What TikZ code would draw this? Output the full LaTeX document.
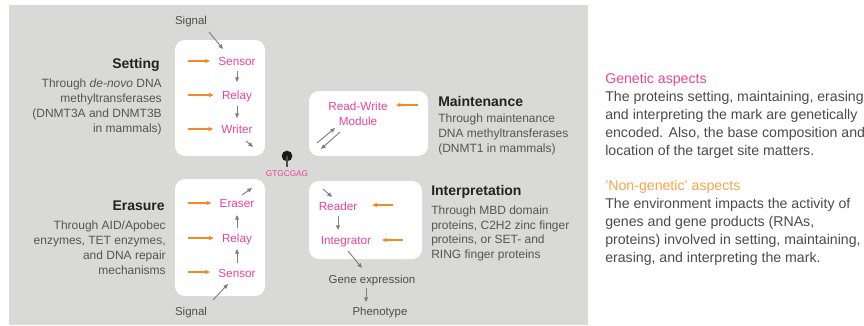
\documentclass[tikz,border=0pt]{standalone}
\usepackage{fontspec}
\setmainfont{Liberation Sans}
\usetikzlibrary{arrows.meta}
\definecolor{bgc}{HTML}{D9D9D8}
\definecolor{pinkc}{HTML}{E8449A}
\definecolor{orangec}{HTML}{F08C28}
\definecolor{lorangec}{HTML}{F5A54A}
\definecolor{arrc}{HTML}{7F7F7F}
\definecolor{headc}{HTML}{222222}
\definecolor{descc}{HTML}{555555}
\definecolor{sigc}{HTML}{4D4D4D}
\definecolor{bodyc}{HTML}{4A4A4A}
\tikzset{
  lbl/.style={text=pinkc, font=\fontsize{8.8}{10}\selectfont, inner xsep=6pt, inner ysep=0pt, text height=6.4pt, text depth=0pt},
  lbltwo/.style={text=pinkc, font=\fontsize{8.8}{11.25}\selectfont, inner xsep=6pt, inner ysep=0pt, align=center},
  hd/.style={font=\fontsize{10.5}{12}\selectfont\bfseries, text=headc, inner sep=0pt, text height=7.5pt, text depth=0pt},
  desc/.style={font=\fontsize{9}{11.25}\selectfont, text=descc, inner sep=0pt},
  sig/.style={font=\fontsize{8.6}{10}\selectfont, text=sigc, inner sep=0pt, text height=6.2pt, text depth=0pt},
  body/.style={font=\fontsize{10.6}{13.5}\selectfont, text=bodyc, inner sep=0pt, align=left, anchor=north west},
  whitebox/.style={fill=white, rounded corners=7.5pt},
  oarr/.style={draw=orangec, line width=0.85pt, -{Triangle[length=3.5pt,width=3pt]}},
  garr/.style={draw=arrc, line width=0.7pt, -{Triangle[length=3.5pt,width=3pt]}}
}
\begin{document}
\begin{tikzpicture}[x=0.75pt,y=-0.75pt]
\useasboundingbox (0,0) rectangle (864,325);
\fill[bgc] (9,5) rectangle (588,325);

% ---------- Setting ----------
\fill[whitebox] (175,40) rectangle (265,156);
\node[sig] (sigtop) at (191,20) {Signal};
\node[lbl] (sensorS) at (237,61) {Sensor};
\node[lbl] (relayS) at (237,95) {Relay};
\node[lbl] (writer) at (237,129) {Writer};
\node[hd, anchor=east] (setting) at (160,63) {Setting};
\node[desc, anchor=north east, align=right] (settingd) at (162,78.5)
  {Through \textit{de-novo} DNA\\methyltransferases\\(DNMT3A and DNMT3B\\in mammals)};
\coordinate (oS1) at (188,61);
\coordinate (oS2) at (188,95);
\coordinate (oS3) at (188,129);
\draw[oarr] (oS1) -- (oS1 -| sensorS.west);
\draw[oarr] (oS2) -- (oS2 -| relayS.west);
\draw[oarr] (oS3) -- (oS3 -| writer.west);
\draw[garr, shorten <=7.5pt, shorten >=9.75pt] (sensorS.center) -- (relayS.center);
\draw[garr, shorten <=8.25pt, shorten >=8.25pt] (relayS.center) -- (writer.center);
\coordinate (sigA) at (209,32);
\coordinate (sigB) at (223,49);
\draw[garr] (sigA) -- (sigB);
\coordinate (wrA) at (246,141);
\coordinate (wrB) at (253,147);
\draw[garr] (wrA) -- (wrB);

% ---------- DNA site ----------
\node[circle, fill=black!90, inner sep=0pt, minimum size=8pt] (dot) at (287,156) {};
\coordinate (stemend) at (287,167);
\draw[draw=black!70, line width=1.1pt] (dot.center) -- (stemend);
\node[font=\fontsize{6.2}{7}\selectfont, text=pinkc, inner sep=0pt] (site) at (287,174) {GTGCGAG};

% ---------- Erasure ----------
\fill[whitebox] (175,179) rectangle (265,296);
\node[lbl] (eraser) at (237,203) {Eraser};
\node[lbl] (relayE) at (237,238) {Relay};
\node[lbl] (sensorE) at (237,273) {Sensor};
\node[sig] (sigbot) at (191,311) {Signal};
\node[hd, anchor=east] (erasure) at (165,205) {Erasure};
\node[desc, anchor=north east, align=right] (erasured) at (166,220.5)
  {Through AID/Apobec\\enzymes, TET enzymes,\\and DNA repair\\mechanisms};
\coordinate (oE1) at (188,203);
\coordinate (oE2) at (188,238);
\coordinate (oE3) at (188,272);
\draw[oarr] (oE1) -- (oE1 -| eraser.west);
\draw[oarr] (oE2) -- (oE2 -| relayE.west);
\draw[oarr] (oE3) -- (oE3 -| sensorE.west);
\draw[garr, shorten <=7.5pt, shorten >=8.25pt] (sensorE.center) -- (relayE.center);
\draw[garr, shorten <=7.5pt, shorten >=9pt] (relayE.center) -- (eraser.center);
\coordinate (erA) at (242,195);
\coordinate (erB) at (252,188);
\draw[garr] (erA) -- (erB);
\coordinate (sbA) at (213,300);
\coordinate (sbB) at (228,284);
\draw[garr] (sbA) -- (sbB);

% ---------- Maintenance ----------
\fill[whitebox] (309,91) rectangle (428,156);
\node[lbltwo, anchor=north] (rw) at (358,102) {Read-Write\\Module};
\node[hd, anchor=west] (maint) at (438,101) {Maintenance};
\node[desc, anchor=north west, align=left] (maintd) at (438,113.5)
  {Through maintenance\\DNA methyltransferases\\(DNMT1 in mammals)};
\coordinate (oM) at (418,105);
\draw[oarr] (oM) -- (oM -| rw.east);
\coordinate (mA) at (317,143);
\coordinate (mB) at (335,128);
\coordinate (mC) at (340,132);
\coordinate (mD) at (321,149);
\draw[garr] (mA) -- (mB);
\draw[garr] (mC) -- (mD);

% ---------- Interpretation ----------
\fill[whitebox] (309,181) rectangle (422,259);
\node[lbl] (reader) at (338,206) {Reader};
\node[lbl] (integrator) at (346,240) {Integrator};
\node[hd, anchor=west] (interp) at (431,190) {Interpretation};
\node[desc, anchor=north west, align=left, font=\fontsize{9}{11}\selectfont] (interpd) at (431,205.5)
  {Through MBD domain\\proteins, C2H2 zinc finger\\proteins, or SET- and\\RING finger proteins};
\coordinate (oR) at (393,205);
\coordinate (oI) at (403,240);
\draw[oarr, shorten >=5pt] (oR) -- (oR -| reader.east);
\draw[oarr, shorten >=2pt] (oI) -- (oI -| integrator.east);
\coordinate (rdA) at (323,189);
\coordinate (rdB) at (332,197);
\draw[garr] (rdA) -- (rdB);
\draw[garr, shorten <=7.5pt, shorten >=7.5pt] (reader.center) -- (reader.center |- integrator.center);
\node[sig] (gene) at (372,279) {Gene expression};
\node[sig] (pheno) at (380,311) {Phenotype};
\coordinate (igA) at (348,251);
\coordinate (igB) at (362,268);
\draw[garr] (igA) -- (igB);
\coordinate (gpA) at (366,288);
\coordinate (gpB) at (366,302);
\draw[garr] (gpA) -- (gpB);

% ---------- Right panel ----------
\node[body] (genetic) at (605,72.6)
  {{\color{pinkc}Genetic aspects}\\The proteins setting, maintaining, erasing\\and interpreting the mark are genetically\\encoded. Also, the base composition and\\location of the target site matters.};
\node[body] (nongenetic) at (605,179.6)
  {{\color{lorangec}'Non-genetic' aspects}\\The environment impacts the activity of\\genes and gene products (RNAs,\\proteins) involved in setting, maintaining,\\erasing, and interpreting the mark.};
\end{tikzpicture}
\end{document}
